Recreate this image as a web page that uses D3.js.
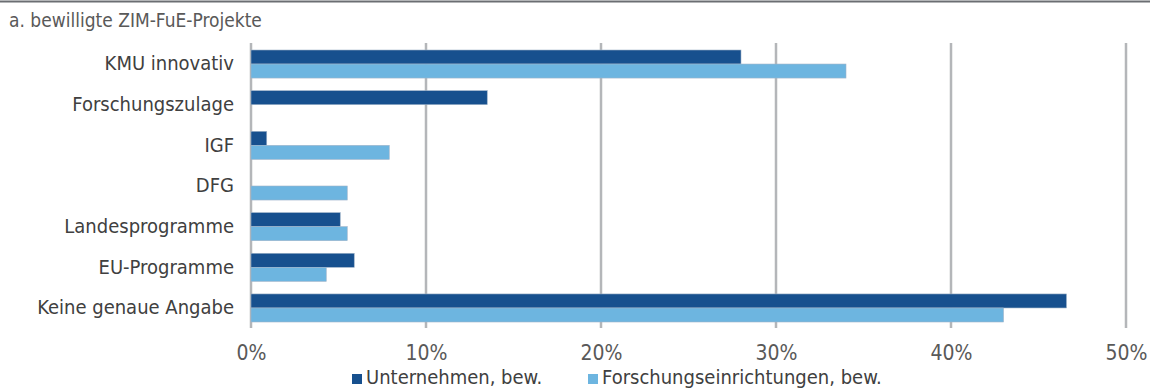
<!DOCTYPE html>
<html><head><meta charset="utf-8">
<script src="https://cdn.jsdelivr.net/npm/d3@7"></script>
<style>
body{margin:0;background:#fff;}
text{font-family:"Liberation Sans Narrow","Arial Narrow","DejaVu Sans Condensed",sans-serif;}
</style></head>
<body><svg id="c" width="1150" height="390"></svg>
<script>
const categories = ["KMU innovativ","Forschungszulage","IGF","DFG","Landesprogramme","EU-Programme","Keine genaue Angabe"];
const unternehmen = [28.0, 13.5, 0.9, 0, 5.1, 5.9, 46.6];
const forschung = [34.0, 0, 7.9, 5.5, 5.5, 4.3, 43.0];
const seriesNames = ["Unternehmen, bew.","Forschungseinrichtungen, bew."];
const tickValues = [0,10,20,30,40,50];
const title = "a. bewilligte ZIM-FuE-Projekte";
const colors = ["#17508e","#6db5e0"];

const svg = d3.select("#c");
const x = d3.scaleLinear().domain([0,50]).range([251,1126]);
const y = d3.scaleBand().domain(categories).range([43.7,328.3]).paddingInner(0.31).paddingOuter(0.155);
const sub = d3.scaleBand().domain([0,1]).range([0,y.bandwidth()]);

svg.append("line").attr("x1",0).attr("x2",1150).attr("y1",1.5).attr("y2",1.5).attr("stroke","#6b6e72").attr("stroke-width",2);
svg.append("text").attr("x",9).attr("y",27).attr("font-size",19).attr("fill","#595959").text(title);

// grid
svg.append("g").selectAll("line").data(tickValues).join("line")
  .attr("x1",d=>x(d)).attr("x2",d=>x(d)).attr("y1",43).attr("y2",328)
  .attr("stroke","#b4b6b9").attr("stroke-width",2.5);

const series = [unternehmen, forschung];
series.forEach((vals,si)=>{
  svg.append("g").selectAll("rect").data(vals.map((v,i)=>({v,c:categories[i]})).filter(d=>d.v>0)).join("rect")
    .attr("x",x(0)).attr("y",d=>y(d.c)+sub(si)).attr("width",d=>x(d.v)-x(0)).attr("height",sub.bandwidth())
    .attr("fill",colors[si]).attr("stroke","#9fb3c8").attr("stroke-width",0.6);
});

// y labels
svg.append("g").selectAll("text").data(categories).join("text")
  .attr("x",234).attr("y",d=>y(d)+y.bandwidth()/2).attr("dy","0.32em").attr("text-anchor","end")
  .attr("font-size",20).attr("fill","#404040").text(d=>d);

// x axis
const xa = svg.append("g").attr("transform","translate(0,328)").call(d3.axisBottom(x).tickValues(tickValues).tickFormat(d=>d+"%").tickSize(0).tickPadding(17));
xa.select(".domain").remove();
xa.selectAll("text").attr("font-size",21).attr("fill","#595959").attr("font-family",null);

// legend
const lx = [352, 588];
seriesNames.forEach((n,i)=>{
  svg.append("rect").attr("x",lx[i]).attr("y",374).attr("width",10).attr("height",10).attr("fill",colors[i]);
  svg.append("text").attr("x",lx[i]+14).attr("y",384).attr("font-size",20).attr("fill","#404040").text(n);
});
</script></body></html>
